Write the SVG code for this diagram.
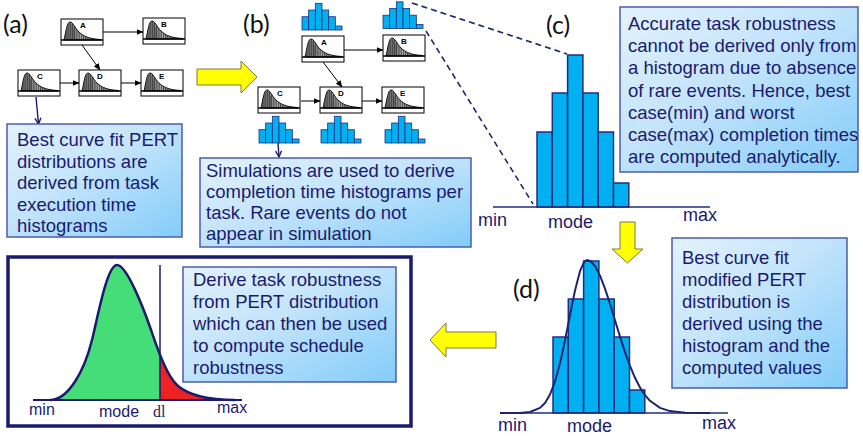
<svg xmlns="http://www.w3.org/2000/svg" xmlns:xlink="http://www.w3.org/1999/xlink" width="863" height="440" viewBox="0 0 863 440">
  <style>
    .note { font-family: "Liberation Sans", Arial, sans-serif; font-size: 18.5px; fill: #1b1b6e; }
    .axis { font-family: "Liberation Sans", Arial, sans-serif; font-size: 18px; fill: #1b1b6e; }
    .axis-s { font-family: "Liberation Sans", Arial, sans-serif; font-size: 16px; fill: #1b1b6e; }
    .tag { font-family: "Lato", "Open Sans", sans-serif; font-size: 25px; fill: #111; }
    .box { fill: url(#calloutFill); stroke: #4d5caa; stroke-width: 1.5; }
    .letter { font-family: "Liberation Sans", Arial, sans-serif; font-size: 8px; font-weight: bold; fill: #000; }
    .flow { stroke: #000; stroke-width: 1; fill: none; marker-end: url(#tip); }
    .ptr { stroke: #1b1b6e; stroke-width: 1.4; fill: none; marker-end: url(#vtip); }
    .bar { fill: #00b0f0; stroke: #1f2f7e; stroke-width: 1.5; }
    .minibar { fill: #00b0f0; stroke: #1f2f7e; stroke-width: 0.8; }
    .base { stroke: #1f2f7e; stroke-width: 1.6; }
    .dash { stroke: #1f2a6e; stroke-width: 1.6; stroke-dasharray: 6 4; fill: none; }
    .yarrow { fill: #ffff00; stroke: #7a7a40; stroke-width: 1; }
  </style>
  <defs>
    <linearGradient id="calloutFill" x1="0" y1="0" x2="1" y2="1">
      <stop offset="0" stop-color="#e3f2fd"/>
      <stop offset="0.45" stop-color="#c3e4fb"/>
      <stop offset="1" stop-color="#82ccf9"/>
    </linearGradient>
    <pattern id="hatch" width="2.2" height="4" patternUnits="userSpaceOnUse">
      <rect width="2.2" height="4" fill="#b0b0b0"/>
      <line x1="0.6" y1="0" x2="0.6" y2="4" stroke="#111" stroke-width="0.8"/>
    </pattern>
    <marker id="tip" markerWidth="7" markerHeight="6" refX="6.5" refY="3" orient="auto" markerUnits="userSpaceOnUse">
      <path d="M0,0 L7,3 L0,6 Z" fill="#000"/>
    </marker>
    <marker id="vtip" markerWidth="8" markerHeight="8" refX="7" refY="4" orient="auto" markerUnits="userSpaceOnUse" viewBox="0 0 8 8">
      <path d="M1,1 L7,4 L1,7" fill="none" stroke="#1b1b6e" stroke-width="1.4"/>
    </marker>
    <!-- task thumbnail: skewed PERT curve with hatched area -->
    <g id="thumb">
      <rect x="0" y="0" width="42" height="26" fill="#fff" stroke="#000" stroke-width="1"/>
      <path d="M3,21 C5,12 6,3 9,3 C12,3 14,9 18,13 C23,18 30,20 40,20.5 L40,21 Z" fill="url(#hatch)" stroke="#000" stroke-width="0.9"/>
      <path d="M4,21 C5.5,12 6.5,4 9,4 C11,4 12,8 13,10 L13,21 Z" fill="#444" opacity="0.55"/>
      <line x1="0" y1="21" x2="42" y2="21" stroke="#000" stroke-width="1.3"/>
    </g>
    <!-- small completion-time histogram -->
    <g id="minihist">
      <rect class="minibar" x="0" y="13.7" width="6.67" height="13.3"/>
      <rect class="minibar" x="6.67" y="7" width="6.67" height="20"/>
      <rect class="minibar" x="13.33" y="0.3" width="6.67" height="26.7"/>
      <rect class="minibar" x="20" y="7" width="6.67" height="20"/>
      <rect class="minibar" x="26.67" y="13.7" width="6.67" height="13.3"/>
      <rect class="minibar" x="33.33" y="23" width="6.67" height="4"/>
    </g>
    <clipPath id="lateSide">
      <rect x="160" y="250" width="120" height="160"/>
    </clipPath>
    <path id="pertShape" d="M45,400 L50,400 C68,400 84,372 92,340 C98,316 107,265 117,265 C127,265 144,310 150,327 C156,344 166,376 178,386 C190,396 210,400 235,400 L240,400 Z"/>
  </defs>

  <rect width="863" height="440" fill="#fff"/>

  <!-- panel labels -->
  <text class="tag" x="3" y="33">(a)</text>
  <text class="tag" x="243" y="33">(b)</text>
  <text class="tag" x="546" y="34">(c)</text>
  <text class="tag" x="513" y="298">(d)</text>
  <text class="tag" x="44" y="318">(e)</text>

  <!-- connectors -->
  <g id="connectors">
    <!-- (a) task graph -->
    <line class="flow" x1="103" y1="32" x2="143" y2="32"/>
    <line class="flow" x1="82" y1="45" x2="100" y2="70"/>
    <line class="flow" x1="60" y1="83" x2="79" y2="83"/>
    <line class="flow" x1="120" y1="83" x2="141" y2="83"/>
    <line class="ptr" x1="36" y1="97" x2="38.5" y2="124"/>
    <!-- (b) task graph -->
    <line class="flow" x1="344" y1="50" x2="383" y2="50"/>
    <line class="flow" x1="323" y1="62" x2="342" y2="87"/>
    <line class="flow" x1="301" y1="101" x2="320" y2="101"/>
    <line class="flow" x1="362" y1="101" x2="382" y2="101"/>
    <line class="ptr" x1="278" y1="143" x2="279" y2="157"/>
    <!-- zoom-in guides to histogram (c) -->
    <line class="dash" x1="412" y1="3" x2="567" y2="54"/>
    <line class="dash" x1="426" y1="31" x2="533" y2="204"/>
    <!-- stage arrows -->
    <polygon class="yarrow" points="197,69 241,69 241,61 257,77 241,93 241,85 197,85"/>
    <polygon class="yarrow" points="620,222 635,222 635,249 643,249 627.5,263 612,249 620,249"/>
    <polygon class="yarrow" points="496,332 446,332 446,323 430,340 446,357 446,348 496,348"/>
  </g>

  <!-- (a) nodes -->
  <g id="a-A" transform="translate(61,19)"><use href="#thumb"/><text class="letter" x="19" y="9">A</text></g>
  <g id="a-B" transform="translate(143,18)"><use href="#thumb"/><text class="letter" x="18" y="9">B</text></g>
  <g id="a-C" transform="translate(18,70)"><use href="#thumb"/><text class="letter" x="19" y="9">C</text></g>
  <g id="a-D" transform="translate(79,70)"><use href="#thumb"/><text class="letter" x="18" y="9">D</text></g>
  <g id="a-E" transform="translate(141,70)"><use href="#thumb"/><text class="letter" x="18" y="9">E</text></g>

  <g id="a-note">
    <rect class="box" x="7" y="124" width="175" height="113"/>
    <text class="note" x="17" y="146">Best curve fit PERT</text>
    <text class="note" x="17" y="167.5">distributions are</text>
    <text class="note" x="17" y="189">derived from task</text>
    <text class="note" x="17" y="210.5">execution time</text>
    <text class="note" x="17" y="232">histograms</text>
  </g>

  <!-- (b) nodes with simulated histograms -->
  <g id="b-A" transform="translate(302,36)"><use href="#thumb"/><text class="letter" x="19" y="9">A</text></g>
  <g id="b-B" transform="translate(383,35)"><use href="#thumb"/><text class="letter" x="18" y="9">B</text></g>
  <g id="b-C" transform="translate(258,87)"><use href="#thumb"/><text class="letter" x="19" y="9">C</text></g>
  <g id="b-D" transform="translate(320,87)"><use href="#thumb"/><text class="letter" x="18" y="9">D</text></g>
  <g id="b-E" transform="translate(382,87)"><use href="#thumb"/><text class="letter" x="18" y="9">E</text></g>
  <g id="b-hists">
    <use href="#minihist" transform="translate(302,3)"/>
    <use href="#minihist" transform="translate(383,1.5)"/>
    <use href="#minihist" transform="translate(259,116)"/>
    <use href="#minihist" transform="translate(321,116)"/>
    <use href="#minihist" transform="translate(385,116)"/>
  </g>

  <g id="b-note">
    <rect class="box" x="200" y="158" width="271" height="89"/>
    <text class="note" x="206" y="177">Simulations are used to derive</text>
    <text class="note" x="206" y="198">completion time histograms per</text>
    <text class="note" x="206" y="219">task. Rare events do not</text>
    <text class="note" x="206" y="240">appear in simulation</text>
  </g>

  <!-- (c) histogram -->
  <g id="c-hist">
    <rect class="bar" x="537" y="132" width="15.3" height="75"/>
    <rect class="bar" x="552.3" y="93" width="15.3" height="114"/>
    <rect class="bar" x="567.6" y="55" width="15.3" height="152"/>
    <rect class="bar" x="582.9" y="93" width="15.3" height="114"/>
    <rect class="bar" x="598.2" y="132" width="15.3" height="75"/>
    <rect class="bar" x="613.5" y="183" width="15.3" height="24"/>
    <line class="base" x1="493" y1="207" x2="710" y2="207"/>
    <text class="axis" x="478" y="226">min</text>
    <text class="axis" x="548" y="228">mode</text>
    <text class="axis" x="683" y="221">max</text>
  </g>

  <g id="c-note">
    <rect class="box" x="620" y="7" width="238" height="165"/>
    <text class="note" x="628" y="30">Accurate task robustness</text>
    <text class="note" x="628" y="52.2">cannot be derived only from</text>
    <text class="note" x="628" y="74.4">a histogram due to absence</text>
    <text class="note" x="628" y="96.6">of rare events. Hence, best</text>
    <text class="note" x="628" y="118.8">case(min) and worst</text>
    <text class="note" x="628" y="141">case(max) completion times</text>
    <text class="note" x="628" y="163.2">are computed analytically.</text>
  </g>

  <!-- (d) histogram with fitted curve -->
  <g id="d-fit">
    <rect class="bar" x="553" y="337" width="15.3" height="76"/>
    <rect class="bar" x="568.3" y="299" width="15.3" height="114"/>
    <rect class="bar" x="583.6" y="261" width="15.3" height="152"/>
    <rect class="bar" x="598.9" y="299" width="15.3" height="114"/>
    <rect class="bar" x="614.2" y="337" width="15.3" height="76"/>
    <rect class="bar" x="629.5" y="390" width="15.3" height="23"/>
    <line class="base" x1="500" y1="413" x2="728" y2="413"/>
    <polyline fill="none" stroke="#1f2470" stroke-width="2" stroke-linejoin="round"
      points="500,413 520,413 530,412 540,407.9 545,403 550,394.5 555,381.5 560,363.3 565,340.5 570,315 575,290.5 580,271.2 584,262.1 587,260 591,261.5 595,266.1 600,275.6 605,288.6 610,303.8 615,320.2 620,336.6 625,352.1 630,365.9 635,377.8 640,387.5 645,395.1 650,400.8 660,407.9 670,411.1 685,412.7 710,413"/>
    <text class="axis" x="498" y="431">min</text>
    <text class="axis" x="567" y="432">mode</text>
    <text class="axis" x="702" y="429">max</text>
  </g>

  <g id="d-note">
    <rect class="box" x="672" y="238" width="175" height="150"/>
    <text class="note" x="682" y="264">Best curve fit</text>
    <text class="note" x="682" y="286">modified PERT</text>
    <text class="note" x="682" y="308">distribution is</text>
    <text class="note" x="682" y="330">derived using the</text>
    <text class="note" x="682" y="352">histogram and the</text>
    <text class="note" x="682" y="374">computed values</text>
  </g>

  <!-- (e) PERT distribution with deadline -->
  <g id="e-panel">
    <rect x="8" y="257" width="403" height="169" fill="#fff" stroke="#1b1b6e" stroke-width="3.5"/>
    <use href="#pertShape" fill="#44dd77"/>
    <use href="#pertShape" fill="#ee2222" clip-path="url(#lateSide)"/>
    <line x1="160" y1="265" x2="160" y2="400" stroke="#1b1b6e" stroke-width="1.5"/>
    <line x1="33" y1="400" x2="242" y2="400" stroke="#1b1b6e" stroke-width="2"/>
    <path d="M50,400 C68,400 84,372 92,340 C98,316 107,265 117,265 C127,265 144,310 150,327 C156,344 166,376 178,386 C190,396 210,400 235,400" fill="none" stroke="#1b1b6e" stroke-width="2.5"/>
    <text class="axis-s" x="29" y="415">min</text>
    <text class="axis-s" x="99" y="417">mode</text>
    <text x="153" y="417" font-family="Liberation Serif, serif" font-size="16" fill="#1b1b6e">dl</text>
    <text class="axis-s" x="217" y="413">max</text>
  </g>

  <g id="e-note">
    <rect class="box" x="183" y="267" width="213" height="115"/>
    <text class="note" x="193" y="286">Derive task robustness</text>
    <text class="note" x="193" y="308">from PERT distribution</text>
    <text class="note" x="193" y="330">which can then be used</text>
    <text class="note" x="193" y="352">to compute schedule</text>
    <text class="note" x="193" y="374">robustness</text>
  </g>
</svg>
